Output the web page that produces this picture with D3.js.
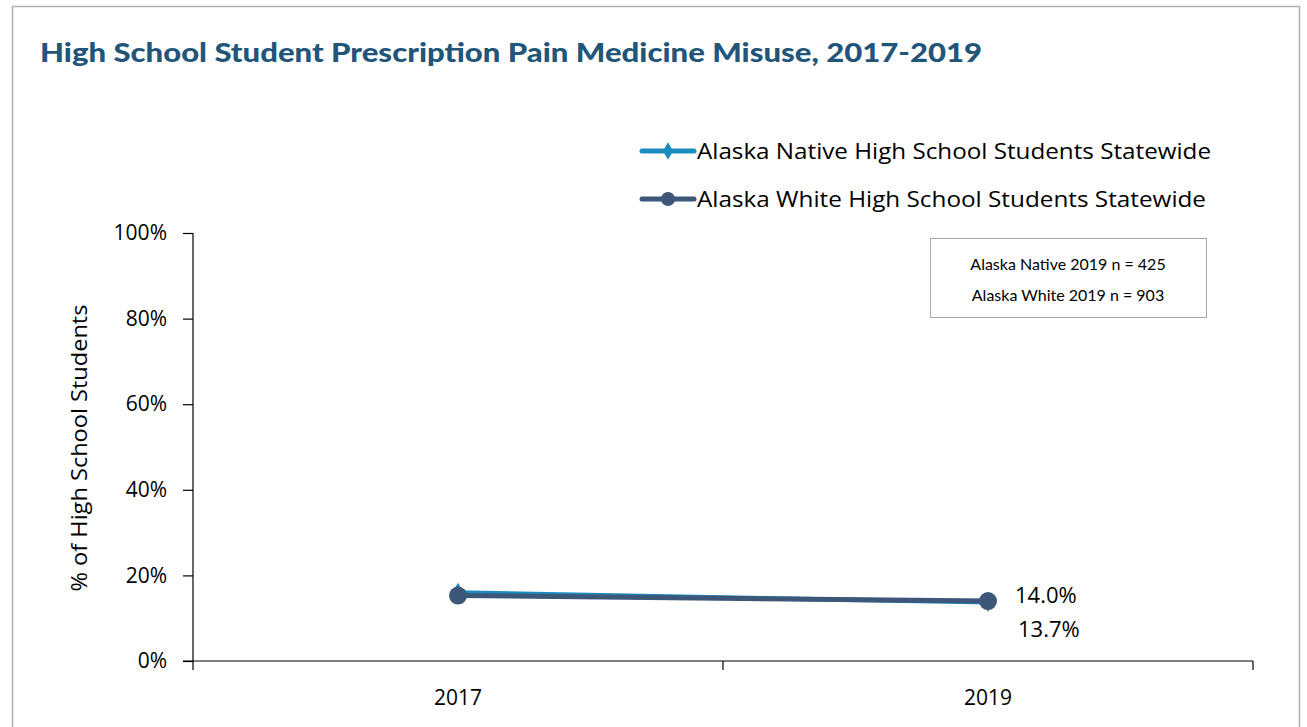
<!DOCTYPE html>
<html>
<head>
<meta charset="utf-8">
<script src="https://d3js.org/d3.v7.min.js"></script>
<style>
  body { margin: 0; background: #fff; }
  text { font-family: "Open Sans", "Noto Sans", sans-serif; }
</style>
</head>
<body>
<div id="chart"></div>
<script>
// Chart values
var years = ["2017", "2019"];
var nativeValues = [16.0, 13.7];
var whiteValues = [15.3, 14.0];
var seriesNames = ["Alaska Native High School Students Statewide", "Alaska White High School Students Statewide"];
var yTicks = [0, 20, 40, 60, 80, 100];
var noteLines = ["Alaska Native 2019 n = 425", "Alaska White 2019 n = 903"];

var svgWidth = 1307;
var svgHeight = 727;

var margin = { top: 233, right: 54, bottom: 66, left: 193 };
var width = svgWidth - margin.left - margin.right;
var height = svgHeight - margin.top - margin.bottom;

var svg = d3.select("#chart")
    .append("svg")
        .attr("width", svgWidth)
        .attr("height", svgHeight);

// outer frame
svg.append("rect")
    .attr("x", 12.5)
    .attr("y", 6.5)
    .attr("width", 1287)
    .attr("height", 740)
    .attr("fill", "none")
    .attr("stroke", "#b0b0b0")
    .attr("stroke-width", 1.5);

// title
svg.append("text")
    .attr("x", 40)
    .attr("y", 62)
    .attr("textLength", 942)
    .attr("lengthAdjust", "spacingAndGlyphs")
    .style("font-family", "Lato, 'Open Sans', sans-serif")
    .style("font-weight", "900")
    .style("font-size", "27px")
    .style("fill", "#22557a")
    .text("High School Student Prescription Pain Medicine Misuse, 2017-2019");

var g = svg.append("g")
    .attr("transform", `translate(${margin.left}, ${margin.top})`);

var xScale = d3.scaleBand()
    .domain(years)
    .range([0, width]);

var yScale = d3.scaleLinear()
    .domain([0, 100])
    .range([height, 0]);

// y axis
var yAxis = g.append("g")
    .call(d3.axisLeft(yScale).tickValues(yTicks).tickSize(10).tickPadding(16).tickFormat(d => d + "%"));
yAxis.select(".domain").attr("stroke", "#000").attr("stroke-width", 1.2).attr("d", `M0,0V${height}`);
yAxis.selectAll(".tick line").attr("stroke", "#000").attr("stroke-width", 1.2);
yAxis.selectAll(".tick text")
    .style("font-family", "'Open Sans', sans-serif")
    .style("font-size", "21px")
    .attr("fill", "#000");

// x axis with ticks between categories
var xAxis = g.append("g")
    .attr("transform", "translate(0," + height + ")");
xAxis.append("line")
    .attr("x1", -10).attr("x2", width)
    .attr("stroke", "#000").attr("stroke-width", 1.2);
var boundaries = [0].concat(years.map(d => xScale(d) + xScale.bandwidth()));
xAxis.selectAll("line.sep")
    .data(boundaries)
    .enter()
    .append("line")
        .attr("class", "sep")
        .attr("x1", d => d).attr("x2", d => d)
        .attr("y1", 0).attr("y2", 9)
        .attr("stroke", "#000").attr("stroke-width", 1.2);
xAxis.selectAll("text.year")
    .data(years)
    .enter()
    .append("text")
        .attr("class", "year")
        .attr("x", d => xScale(d) + xScale.bandwidth() / 2)
        .attr("y", 44)
        .attr("text-anchor", "middle")
        .style("font-family", "'Open Sans', sans-serif")
        .style("font-size", "21px")
        .text(d => d);

// y axis label
svg.append("text")
    .attr("transform", "translate(87, 448) rotate(-90)")
    .attr("text-anchor", "middle")
    .attr("textLength", 287)
    .attr("lengthAdjust", "spacingAndGlyphs")
    .style("font-size", "22px")
    .text("% of High School Students");

var line = d3.line()
    .x((d, i) => xScale(years[i]) + xScale.bandwidth() / 2)
    .y(d => yScale(d));

// native series
g.append("path")
    .datum(nativeValues)
    .attr("d", line)
    .attr("fill", "none")
    .attr("stroke", "#1c8cbf")
    .attr("stroke-width", 4.5);
g.selectAll("path.diamond")
    .data(nativeValues)
    .enter()
    .append("path")
        .attr("class", "diamond")
        .attr("d", d3.symbol().type(d3.symbolDiamond).size(110))
        .attr("transform", (d, i) => `translate(${xScale(years[i]) + xScale.bandwidth() / 2}, ${yScale(d)})`)
        .attr("fill", "#1c8cbf");

// white series
g.append("path")
    .datum(whiteValues)
    .attr("d", line)
    .attr("fill", "none")
    .attr("stroke", "#3c5778")
    .attr("stroke-width", 5);
g.selectAll("circle.dot")
    .data(whiteValues)
    .enter()
    .append("circle")
        .attr("class", "dot")
        .attr("cx", (d, i) => xScale(years[i]) + xScale.bandwidth() / 2)
        .attr("cy", d => yScale(d))
        .attr("r", 9)
        .attr("fill", "#3c5778");

// end labels
var lastX = xScale(years[1]) + xScale.bandwidth() / 2;
g.append("text")
    .attr("x", lastX + 27)
    .attr("y", yScale(whiteValues[1]) + 2)
    .style("font-size", "22px")
    .text(whiteValues[1].toFixed(1) + "%");
g.append("text")
    .attr("x", lastX + 30)
    .attr("y", yScale(nativeValues[1]) + 35)
    .style("font-size", "22px")
    .text(nativeValues[1].toFixed(1) + "%");

// legend
var legendColors = ["#1c8cbf", "#3c5778"];
var legend = svg.selectAll("g.legend")
    .data(seriesNames)
    .enter()
    .append("g")
        .attr("class", "legend")
        .attr("transform", (d, i) => `translate(642, ${151 + i * 48})`);
legend.append("line")
    .attr("x1", 0).attr("x2", 52)
    .attr("stroke", (d, i) => legendColors[i])
    .attr("stroke-width", 5)
    .attr("stroke-linecap", "round");
legend.filter((d, i) => i === 0).append("path")
    .attr("d", d3.symbol().type(d3.symbolDiamond).size(90))
    .attr("transform", "translate(26,0)")
    .attr("fill", legendColors[0]);
legend.filter((d, i) => i === 1).append("circle")
    .attr("cx", 26).attr("r", 7)
    .attr("fill", legendColors[1]);
legend.append("text")
    .attr("x", 55)
    .attr("y", 8)
    .attr("textLength", (d, i) => i === 0 ? 514 : 509)
    .attr("lengthAdjust", "spacingAndGlyphs")
    .style("font-size", "22px")
    .text(d => d);

// sample size box
svg.append("rect")
    .attr("x", 930.5)
    .attr("y", 238.5)
    .attr("width", 276)
    .attr("height", 79)
    .attr("fill", "#fff")
    .attr("stroke", "#a6a6a6")
    .attr("stroke-width", 1);
svg.selectAll("text.note")
    .data(noteLines)
    .enter()
    .append("text")
        .attr("class", "note")
        .attr("x", 1068)
        .attr("y", (d, i) => 270 + i * 31)
        .attr("text-anchor", "middle")
        .style("font-family", "Lato, sans-serif")
        .style("font-size", "16px")
        .text(d => d);
</script>
</body>
</html>
